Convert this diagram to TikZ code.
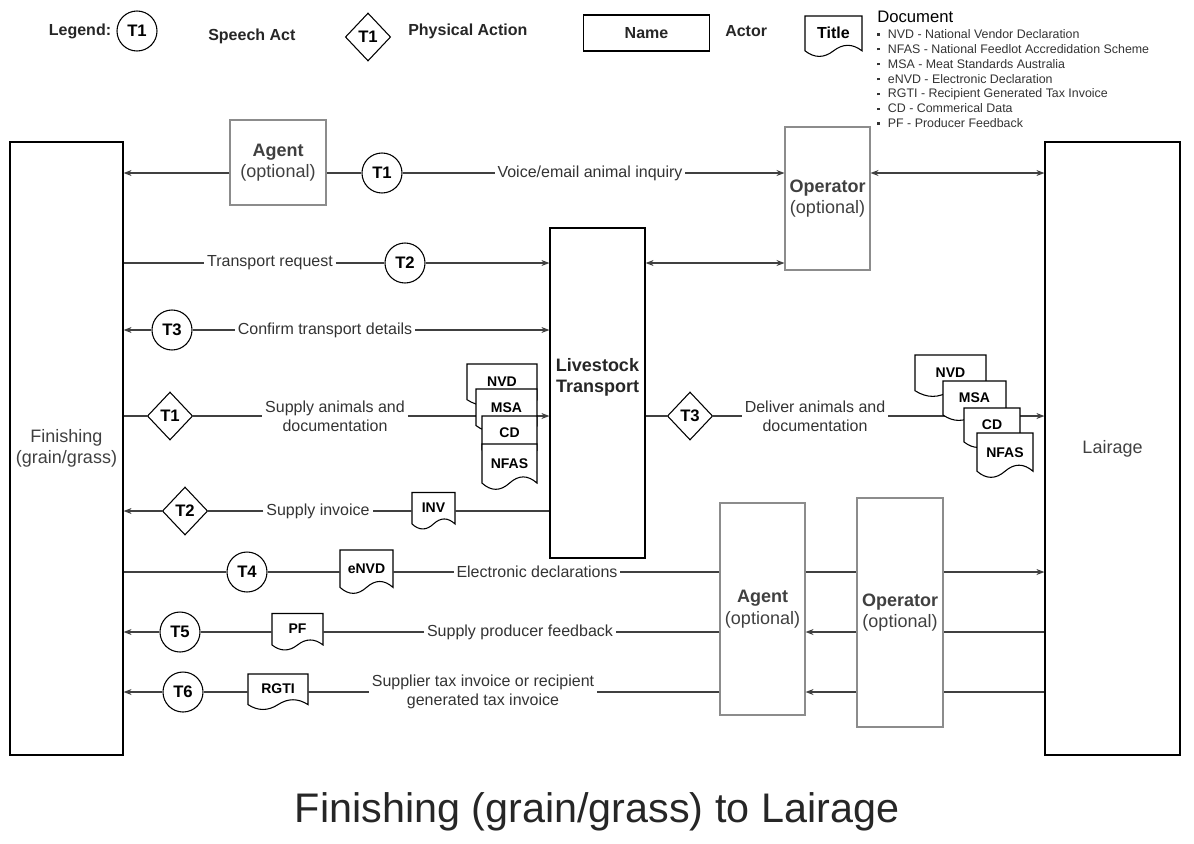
\documentclass[tikz,border=0pt]{standalone}
\usepackage{fontspec}
\setmainfont{Liberation Sans}
\usetikzlibrary{positioning,arrows.meta,shapes.geometric}

% sheet with a wavy bottom edge
\makeatletter
\pgfdeclareshape{paperdoc}{%
  \inheritsavedanchors[from=rectangle]%
  \inheritanchorborder[from=rectangle]%
  \inheritanchor[from=rectangle]{center}%
  \inheritanchor[from=rectangle]{north}%
  \inheritanchor[from=rectangle]{south}%
  \inheritanchor[from=rectangle]{east}%
  \inheritanchor[from=rectangle]{west}%
  \inheritanchor[from=rectangle]{north east}%
  \inheritanchor[from=rectangle]{north west}%
  \inheritanchor[from=rectangle]{south east}%
  \inheritanchor[from=rectangle]{south west}%
  \inheritanchor[from=rectangle]{mid}%
  \inheritanchor[from=rectangle]{base}%
  \backgroundpath{%
    \southwest \edef\docL{\strip@pt\pgf@x}\edef\docB{\strip@pt\pgf@y}%
    \northeast \edef\docR{\strip@pt\pgf@x}\edef\docT{\strip@pt\pgf@y}%
    \pgfmathsetmacro\docdy{0.3*(\docT-\docB)}%
    \pgfmathsetmacro\docE{\docB+0.5*\docdy}%
    \pgfmathsetmacro\docUp{\docB+1.4*\docdy}%
    \pgfmathsetmacro\docDn{\docB-0.4*\docdy}%
    \pgfmathsetmacro\docM{0.5*(\docL+\docR)}%
    \pgfmathsetmacro\docQr{0.25*\docL+0.75*\docR}%
    \pgfmathsetmacro\docQl{0.75*\docL+0.25*\docR}%
    \pgfpathmoveto{\pgfpoint{\docL pt}{\docT pt}}%
    \pgfpathlineto{\pgfpoint{\docR pt}{\docT pt}}%
    \pgfpathlineto{\pgfpoint{\docR pt}{\docE pt}}%
    \pgfpathquadraticcurveto{\pgfpoint{\docQr pt}{\docUp pt}}{\pgfpoint{\docM pt}{\docE pt}}%
    \pgfpathquadraticcurveto{\pgfpoint{\docQl pt}{\docDn pt}}{\pgfpoint{\docL pt}{\docE pt}}%
    \pgfpathclose
  }%
}
\makeatother

\newcommand{\sqbul}{\rule[0.22em]{2pt}{2pt}\hspace{6pt}}

\begin{document}
\begin{tikzpicture}[x=0.75pt, y=-0.75pt,
  actor/.style={draw, line width=0.9pt, inner sep=0pt, align=center, text=black!75,
                font=\fontsize{13.5}{16}\selectfont},
  gactor/.style={actor, draw=black!45, line width=0.8pt, fill=white},
  speech/.style={circle, draw, line width=0.8pt, minimum size=30pt, inner sep=0pt, fill=white,
                 font=\bfseries\fontsize{12.5}{14}\selectfont},
  phys/.style={diamond, draw, line width=0.8pt, minimum width=34pt, minimum height=36pt,
               inner sep=0pt, fill=white, font=\bfseries\fontsize{12.5}{14}\selectfont},
  docbox/.style={paperdoc, draw, line width=0.8pt, fill=white, inner sep=0pt, outer sep=0pt,
                 text depth=5pt, font=\bfseries\fontsize{10.5}{12}\selectfont},
  lbl/.style={inner xsep=2pt, inner ysep=1pt, align=center, text=black!80,
              font=\fontsize{12}{14}\selectfont},
  legtxt/.style={inner sep=0pt, font=\bfseries\fontsize{12}{14}\selectfont, text=black!85},
  line/.style={line width=0.8pt, black!75},
  arr/.style={line, -{Stealth[length=6pt,width=4.5pt]}},
  dblarr/.style={line, {Stealth[length=6pt,width=4.5pt]}-{Stealth[length=6pt,width=4.5pt]}}]

\useasboundingbox (0,0) rectangle (1194,843);

% legend
\node[legtxt] (legT) at (80,31) {Legend:};
\node[speech] (legS) at (137,31) {T1};
\node[legtxt, anchor=west] (legSt) at (208,36) {Speech Act};
\node[phys] (legP) at (368,37) {T1};
\node[legtxt, anchor=west] (legPt) at (408,31) {Physical Action};
\node[actor, text=black!85, minimum width=95pt, minimum height=27pt,
      font=\bfseries\fontsize{12}{14}\selectfont] (legA) at (646.5,33) {Name};
\node[legtxt, anchor=west] (legAt) at (725,31) {Actor};
\node[docbox, minimum width=42.75pt, minimum height=30.75pt,
      font=\bfseries\fontsize{12}{14}\selectfont] (legD) at (833.5,36.5) {Title};
\node[anchor=west, inner sep=0pt, font=\fontsize{12.5}{14}\selectfont] (legDt) at (877,17) {Document};
\node[anchor=north west, inner sep=0pt, align=left, text=black!80,
      font=\fontsize{9.3}{11.2}\selectfont] (legList) at (877,29) {%
  \sqbul NVD - National Vendor Declaration\\
  \sqbul NFAS - National Feedlot Accredidation Scheme\\
  \sqbul MSA - Meat Standards Australia\\
  \sqbul eNVD - Electronic Declaration\\
  \sqbul RGTI - Recipient Generated Tax Invoice\\
  \sqbul CD - Commerical Data\\
  \sqbul PF - Producer Feedback};

% actors
\node[actor, minimum width=84.75pt, minimum height=459.75pt] (fin) at (66.5,448.5) {Finishing\\(grain/grass)};
\node[actor, minimum width=101.25pt, minimum height=459.75pt] (lair) at (1112.5,448.5) {Lairage};
\node[actor, text=black!85, text depth=26pt, minimum width=71.25pt, minimum height=247.5pt] (trans) at (597.5,393)
  {\textbf{Livestock}\\\textbf{Transport}};
\node[gactor, minimum width=72pt, minimum height=63.75pt] (agent1) at (278,162.5) {\textbf{Agent}\\(optional)};
\node[gactor, minimum width=63.75pt, minimum height=107.25pt] (oper1) at (827.5,198.5) {\textbf{Operator}\\(optional)};
\node[gactor, minimum width=63.75pt, minimum height=159pt] (agent2) at (762.5,609) {\textbf{Agent}\\(optional)};
\node[gactor, minimum width=64.5pt, minimum height=171.75pt] (oper2) at (900,612.5) {\textbf{Operator}\\(optional)};

% transactions
\node[speech] (t1) at (382,173) {T1};
\node[speech] (t2) at (405,263) {T2};
\node[speech] (t3) at (172,330) {T3};
\node[phys] (p1) at (170,416) {T1};
\node[phys] (p3) at (690,416) {T3};
\node[phys] (p2) at (185,511) {T2};
\node[speech] (t4) at (247,572) {T4};
\node[speech] (t5) at (180,632) {T5};
\node[speech] (t6) at (183,692) {T6};

% documents on the lines
\node[docbox, minimum width=32.25pt, minimum height=27.75pt] (inv) at (433.5,511) {INV};
\node[docbox, minimum width=39.75pt, minimum height=33pt] (envd) at (366.5,572) {eNVD};
\node[docbox, minimum width=38.25pt, minimum height=27.75pt] (pf) at (297.5,632) {PF};
\node[docbox, minimum width=45pt, minimum height=27pt] (rgti) at (278,692) {RGTI};

% labels
\node[lbl] (l1) at (590,173) {Voice/email animal inquiry};
\node[lbl] (l2) at (270,263) {Transport request};
\node[lbl] (l3) at (325,330) {Confirm transport details};
\node[lbl] (l4) at (335,416) {Supply animals and\\documentation};
\node[lbl] (l4b) at (815,416) {Deliver animals and\\documentation};
\node[lbl] (l5) at (318,511) {Supply invoice};
\node[lbl] (l6) at (537,572) {Electronic declarations};
\node[lbl] (l7) at (520,632) {Supply producer feedback};
\node[lbl] (l8) at (483,692) {Supplier tax invoice or recipient\\generated tax invoice};

% connectors
\draw[arr] (agent1.west |- t1) -- (fin.east |- t1);
\draw[line] (agent1.east |- t1) -- (t1);
\draw[arr] (t1) -- (l1) -- (oper1.west |- t1);
\draw[dblarr] (oper1.east |- t1) -- (lair.west |- t1);
\draw[arr] (fin.east |- t2) -- (l2) -- (t2) -- (trans.west |- t2);
\draw[dblarr] (trans.east |- t2) -- (oper1.west |- t2);
\draw[arr] (t3) -- (fin.east |- t3);
\draw[arr] (t3) -- (l3) -- (trans.west |- t3);
\draw[arr] (fin.east |- p1) -- (p1) -- (l4) -- (trans.west |- p1);
\draw[arr] (trans.east |- p3) -- (p3) -- (l4b) -- (lair.west |- p3);
\draw[arr] (trans.west |- p2) -- (inv) -- (l5) -- (p2) -- (fin.east |- p2);
\draw[line] (fin.east |- t4) -- (t4) -- (envd) -- (l6) -- (agent2.west |- t4);
\draw[line] (agent2.east |- t4) -- (oper2.west |- t4);
\draw[arr] (oper2.east |- t4) -- (lair.west |- t4);
\draw[line] (lair.west |- t5) -- (oper2.east |- t5);
\draw[arr] (oper2.west |- t5) -- (agent2.east |- t5);
\draw[arr] (agent2.west |- t5) -- (l7) -- (pf) -- (t5) -- (fin.east |- t5);
\draw[line] (lair.west |- t6) -- (oper2.east |- t6);
\draw[arr] (oper2.west |- t6) -- (agent2.east |- t6);
\draw[arr] (agent2.west |- t6) -- (l8) -- (rgti) -- (t6) -- (fin.east |- t6);

% document stacks carried with the animals
\node[docbox, minimum width=52.5pt, minimum height=31.5pt] (nvdA) at (502,385) {NVD};
\node[docbox, minimum width=45.75pt, minimum height=32.25pt] (msaA) at (506.5,410.5) {MSA};
\node[docbox, minimum width=41.25pt, minimum height=30pt] (cdA) at (509.5,436) {CD};
\node[docbox, minimum width=41.25pt, minimum height=34.5pt] (nfasA) at (509.5,467) {NFAS};
\node[docbox, minimum width=53.25pt, minimum height=31.5pt] (nvdB) at (950.5,376) {NVD};
\node[docbox, minimum width=47.25pt, minimum height=30pt] (msaB) at (974.5,401) {MSA};
\node[docbox, minimum width=42pt, minimum height=30pt] (cdB) at (992,428) {CD};
\node[docbox, minimum width=42pt, minimum height=33.75pt] (nfasB) at (1005,455.5) {NFAS};

% title
\node[font=\fontsize{31}{36}\selectfont, text=black!85] (title) at (597,812) {Finishing (grain/grass) to Lairage};
\end{tikzpicture}
\end{document}
